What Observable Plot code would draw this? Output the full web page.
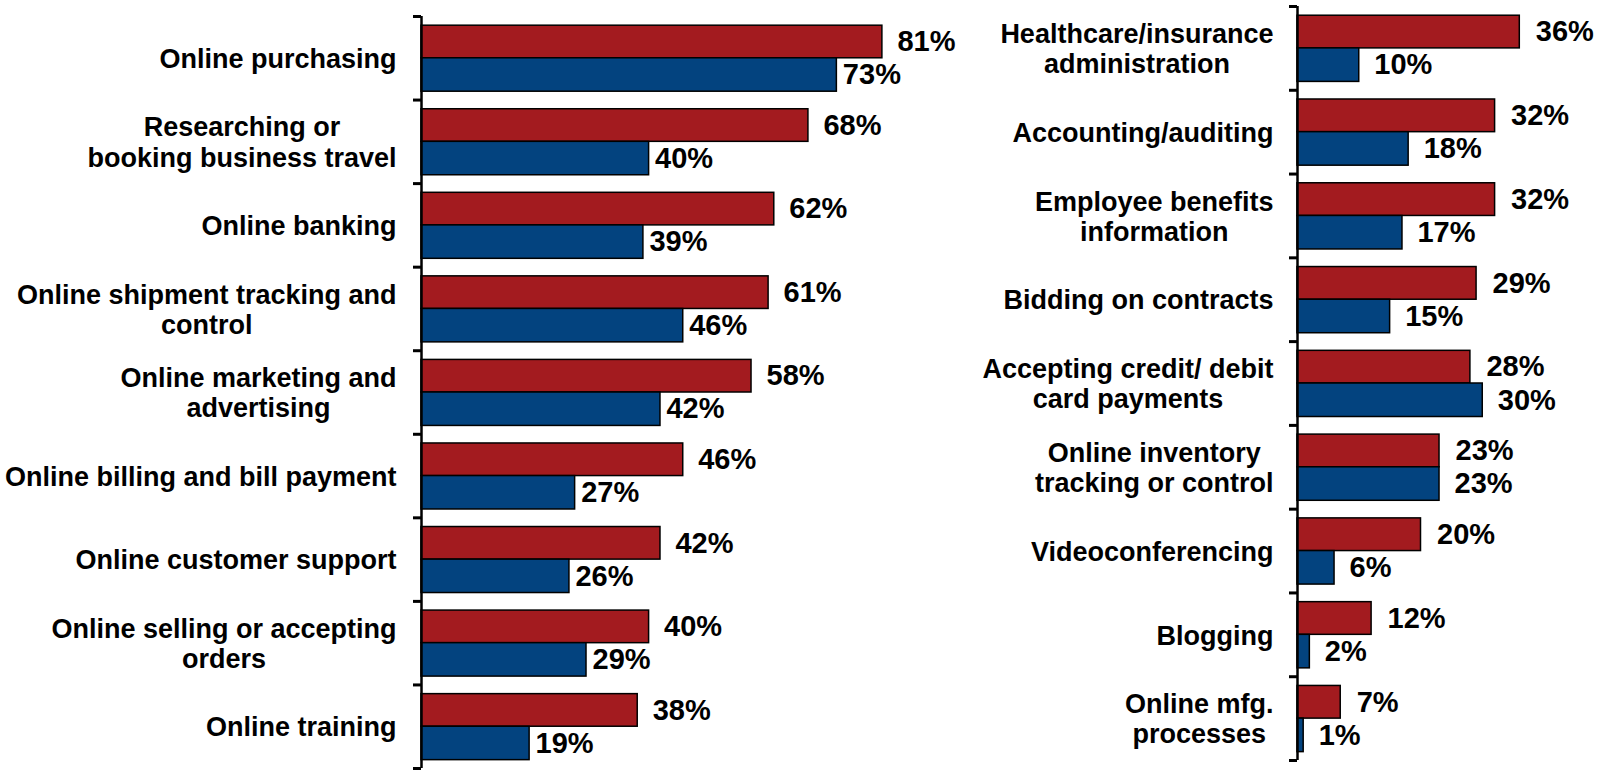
<!DOCTYPE html>
<html>
<head>
<meta charset="utf-8">
<script src="https://cdn.jsdelivr.net/npm/d3@7"></script>
<script src="https://cdn.jsdelivr.net/npm/@observablehq/plot@0.6"></script>
<style>
  html, body { margin: 0; padding: 0; background: #fff; }
  #chart { display: flex; width: 1599px; height: 772px; overflow: hidden; }
  svg { overflow: visible; }
</style>
</head>
<body>
<div id="chart"></div>
<script>
// ---- data ----
const leftCategories = [
  "Online purchasing",
  "Researching or\nbooking business travel",
  "Online banking",
  "Online shipment tracking and\ncontrol",
  "Online marketing and\nadvertising",
  "Online billing and bill payment",
  "Online customer support",
  "Online selling or accepting\norders",
  "Online training"
];
const leftRed  = [81, 68, 62, 61, 58, 46, 42, 40, 38];
const leftBlue = [73, 40, 39, 46, 42, 27, 26, 29, 19];

const rightCategories = [
  "Healthcare/insurance\nadministration",
  "Accounting/auditing",
  "Employee benefits\ninformation",
  "Bidding on contracts",
  "Accepting credit/ debit\ncard payments",
  "Online inventory\ntracking or control",
  "Videoconferencing",
  "Blogging",
  "Online mfg.\nprocesses"
];
const rightRed  = [36, 32, 32, 29, 28, 23, 20, 12, 7];
const rightBlue = [10, 18, 17, 15, 30, 23, 6, 2, 1];

// ---- styles ----
const RED = "#A31B1F";
const BLUE = "#03437F";
const FONT = '"Liberation Sans", Arial, Helvetica, sans-serif';
const CAT_SIZE = 27;
const VAL_SIZE = 29;

const ctx = document.createElement("canvas").getContext("2d");
ctx.font = `bold ${CAT_SIZE}px ${FONT}`;
const blockWidth = (s) => d3.max(s.split("\n"), (l) => ctx.measureText(l).width);

function panel({cats, red, blue, width, marginLeft, marginRight, marginTop, marginBottom, xMax, redDx, blueDx, labelGap}) {
  const rows = cats.map((c, i) => ({cat: c, i, red: red[i], blue: blue[i]}));
  const n = cats.length;
  const labelMarks = rows.map((r) => Plot.text([r], {
    x: 0, y: (d) => d.i + 0.5, text: "cat",
    textAnchor: "middle", lineAnchor: "middle", lineHeight: 1.12,
    dx: -(labelGap + blockWidth(r.cat) / 2),
    fontSize: CAT_SIZE, fontWeight: "bold", fill: "black"
  }));
  return Plot.plot({
    width, height: 772,
    marginLeft, marginRight, marginTop, marginBottom,
    style: {fontFamily: FONT, background: "white", overflow: "visible"},
    x: {domain: [0, xMax], axis: null},
    y: {domain: [0, n], reverse: true},
    marks: [
      Plot.rect(rows, {x1: 0, x2: "red", y1: (d) => d.i + 0.11, y2: (d) => d.i + 0.5,
        fill: RED, stroke: "black", strokeWidth: 1.5}),
      Plot.rect(rows, {x1: 0, x2: "blue", y1: (d) => d.i + 0.5, y2: (d) => d.i + 0.9,
        fill: BLUE, stroke: "black", strokeWidth: 1.5}),
      Plot.ruleX([0], {stroke: "black", strokeWidth: 2.5}),
      Plot.axisY(d3.range(0, n + 1), {tickSize: 8, tickFormat: () => "", label: null,
        stroke: "black", strokeWidth: 3}),
      Plot.text(rows, {x: "red", y: (d) => d.i + 0.305, text: (d) => d.red + "%",
        dx: redDx, textAnchor: "start", fontSize: VAL_SIZE, fontWeight: "bold", fill: "black"}),
      Plot.text(rows, {x: "blue", y: (d) => d.i + 0.7, text: (d) => d.blue + "%",
        dx: blueDx, textAnchor: "start", fontSize: VAL_SIZE, fontWeight: "bold", fill: "black"}),
      ...labelMarks
    ]
  });
}

const left = panel({
  cats: leftCategories, red: leftRed, blue: leftBlue,
  width: 1000, marginLeft: 421, marginRight: 10, marginTop: 16, marginBottom: 4,
  xMax: 100, redDx: 15, blueDx: 6, labelGap: 25
});
const right = panel({
  cats: rightCategories, red: rightRed, blue: rightBlue,
  width: 599, marginLeft: 297, marginRight: 55, marginTop: 6, marginBottom: 12,
  xMax: 40, redDx: 16, blueDx: 15, labelGap: 24
});
document.getElementById("chart").append(left, right);
</script>
</body>
</html>
